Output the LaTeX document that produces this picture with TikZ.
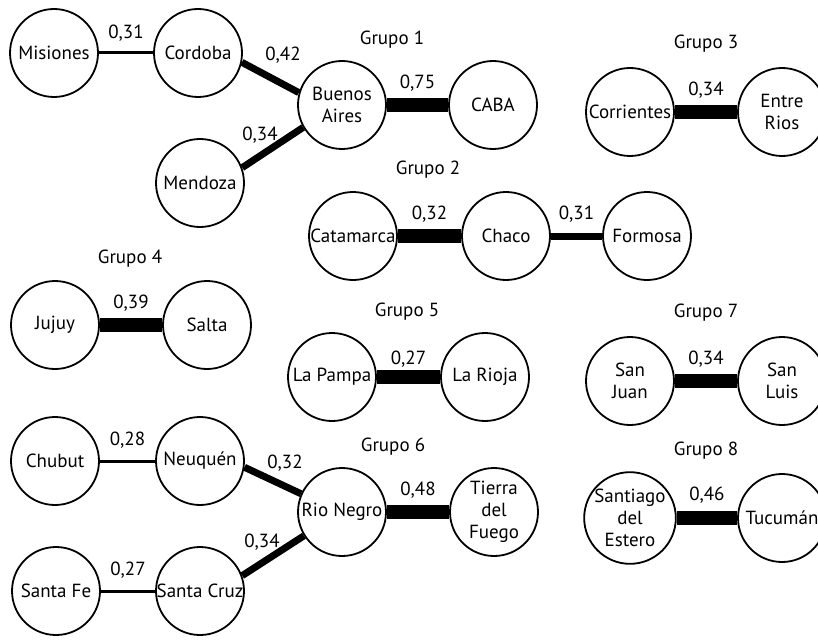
\documentclass[tikz,border=0pt]{standalone}
\usepackage{fontspec}
\setmainfont{PT Sans}
\begin{document}
\begin{tikzpicture}[x=1pt,y=-1pt,
  prov/.style={circle,draw=black,line width=1.8pt,fill=white,minimum size=88pt,inner sep=0pt,align=center,font=\fontsize{19}{22}\selectfont},
  lbl/.style={font=\fontsize{19}{22}\selectfont,inner sep=0pt},
  grp/.style={font=\fontsize{19}{22}\selectfont,inner sep=0pt},
  thinedge/.style={line width=3pt},
  midedge/.style={line width=7pt},
  thickedge/.style={line width=13.5pt}]
\useasboundingbox (0,0) rectangle (818,639);
\clip (0,0) rectangle (818,639);
% Grupo 1
\node[grp] (g1) at (392,40) {Grupo 1};
\node[prov] (mis) at (54,53) {Misiones};
\node[prov] (cor) at (198,53) {Cordoba};
\node[prov] (ba) at (342,105) {Buenos\\Aires};
\node[prov] (caba) at (493,105) {CABA};
\node[prov] (men) at (200,183) {Mendoza};
% Grupo 3
\node[grp] (g3) at (706,44) {Grupo 3};
\node[prov] (corr) at (630,112) {Corrientes};
\node[prov] (er) at (782,112) {Entre\\Rios};
% Grupo 2
\node[grp] (g2) at (428,170) {Grupo 2};
\node[prov] (cat) at (353,236) {Catamarca};
\node[prov] (cha) at (506,236) {Chaco};
\node[prov] (for) at (647,236) {Formosa};
% Grupo 4
\node[grp] (g4) at (130,259) {Grupo 4};
\node[prov] (juj) at (55,325) {Jujuy};
\node[prov] (sal) at (207,325) {Salta};
% Grupo 5
\node[grp] (g5) at (407,312) {Grupo 5};
\node[prov] (lp) at (332,377) {La Pampa};
\node[prov] (lr) at (485,377) {La Rioja};
% Grupo 7
\node[grp] (g7) at (706,313) {Grupo 7};
\node[prov] (sj) at (630,381) {San\\Juan};
\node[prov] (sl) at (782,381) {San\\Luis};
% Grupo 8
\node[grp] (g8) at (706,451) {Grupo 8};
\node[prov] (sde) at (630,518) {Santiago\\del\\Estero};
\node[prov] (tuc) at (782,518) {Tucumán};
% Grupo 6
\node[grp] (g6) at (393,447) {Grupo 6};
\node[prov] (chu) at (55,461) {Chubut};
\node[prov] (neu) at (200,461) {Neuquén};
\node[prov] (rn) at (342,512) {Rio Negro};
\node[prov] (tdf) at (494,512) {Tierra\\del\\Fuego};
\node[prov] (sf) at (56,591) {Santa Fe};
\node[prov] (sc) at (200,591) {Santa Cruz};

% edges
\draw[thinedge] (mis) -- (cor) node[lbl,midway,yshift=20pt] {0,31};
\draw[midedge] (cor.-12) -- (ba.164) node[lbl] at (283,55) {0,42};
\draw[midedge] (men.20) -- (ba.-150) node[lbl] at (260,135) {0,34};
\draw[thickedge] (ba) -- (caba) node[lbl,midway,yshift=22pt] {0,75};
\draw[thickedge] (corr) -- (er) node[lbl,midway,yshift=22pt] {0,34};
\draw[thickedge] (cat) -- (cha) node[lbl,midway,yshift=22pt] {0,32};
\draw[midedge] (cha) -- (for) node[lbl,midway,yshift=22pt] {0,31};
\draw[thickedge] (juj) -- (sal) node[lbl,midway,yshift=22pt] {0,39};
\draw[thickedge] (lp) -- (lr) node[lbl,midway,yshift=18pt] {0,27};
\draw[thickedge] (sj) -- (sl) node[lbl,midway,yshift=22pt] {0,34};
\draw[thickedge] (sde) -- (tuc) node[lbl,midway,yshift=23pt] {0,46};
\draw[thinedge] (chu) -- (neu) node[lbl,midway,yshift=21pt] {0,28};
\draw[midedge] (neu.-8) -- (rn.156) node[lbl] at (285,463) {0,32};
\draw[midedge] (sc.20) -- (rn.-148) node[lbl] at (262,542) {0,34};
\draw[thickedge] (rn) -- (tdf) node[lbl,midway,yshift=22pt] {0,48};
\draw[thinedge] (sf) -- (sc) node[lbl,midway,yshift=21pt] {0,27};
\end{tikzpicture}
\end{document}
